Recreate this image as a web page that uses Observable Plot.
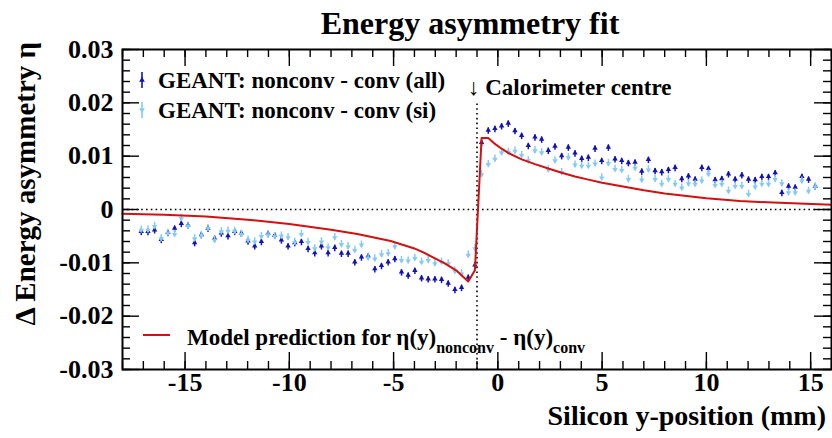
<!DOCTYPE html>
<html><head><meta charset="utf-8">
<script src="https://cdn.jsdelivr.net/npm/d3@7"></script>
<script src="https://cdn.jsdelivr.net/npm/@observablehq/plot@0.6"></script>
<style>
body{margin:0;background:#fff;}
#wrap{position:relative;width:832px;height:438px;}
</style></head><body><div id="wrap"></div>
<script>
// bin centres (mm)
const yPos = [-17.10,-16.78,-16.46,-16.14,-15.82,-15.50,-15.18,-14.86,-14.54,-14.22,-13.90,-13.58,-13.26,-12.94,-12.62,-12.30,-11.98,-11.66,-11.34,-11.02,-10.70,-10.38,-10.06,-9.74,-9.42,-9.10,-8.78,-8.46,-8.14,-7.82,-7.50,-7.18,-6.86,-6.54,-6.22,-5.90,-5.58,-5.26,-4.94,-4.62,-4.30,-3.98,-3.66,-3.34,-3.02,-2.70,-2.38,-2.06,-1.74,-1.42,-1.10,-0.78,-0.46,-0.14,0.18,0.50,0.82,1.14,1.46,1.78,2.10,2.42,2.74,3.06,3.38,3.70,4.02,4.34,4.66,4.98,5.30,5.62,5.94,6.26,6.58,6.90,7.22,7.54,7.86,8.18,8.50,8.82,9.14,9.46,9.78,10.10,10.42,10.74,11.06,11.38,11.70,12.02,12.34,12.66,12.98,13.30,13.62,13.94,14.26,14.58,14.90,15.22];
// GEANT nonconv - conv (all)
const etaAll = [-0.0043,-0.0043,-0.0040,-0.0058,-0.0045,-0.0037,-0.0028,-0.0031,-0.0064,-0.0049,-0.0037,-0.0056,-0.0046,-0.0051,-0.0043,-0.0046,-0.0061,-0.0070,-0.0062,-0.0047,-0.0050,-0.0059,-0.0070,-0.0064,-0.0062,-0.0075,-0.0083,-0.0070,-0.0083,-0.0073,-0.0084,-0.0084,-0.0100,-0.0091,-0.0089,-0.0113,-0.0107,-0.0100,-0.0094,-0.0119,-0.0125,-0.0116,-0.0130,-0.0132,-0.0132,-0.0133,-0.0140,-0.0152,-0.0148,-0.0129,-0.0106,0.0124,0.0147,0.0150,0.0155,0.0160,0.0146,0.0137,0.0118,0.0134,0.0130,0.0109,0.0117,0.0099,0.0115,0.0104,0.0094,0.0096,0.0113,0.0090,0.0115,0.0093,0.0090,0.0086,0.0087,0.0070,0.0092,0.0071,0.0069,0.0073,0.0077,0.0056,0.0061,0.0055,0.0077,0.0075,0.0054,0.0056,0.0065,0.0055,0.0063,0.0055,0.0054,0.0060,0.0060,0.0067,0.0030,0.0042,0.0040,0.0060,0.0055,0.0042];
// GEANT nonconv - conv (si)
const etaSi = [-0.0037,-0.0037,-0.0030,-0.0053,-0.0043,-0.0045,-0.0015,-0.0030,-0.0053,-0.0047,-0.0034,-0.0056,-0.0040,-0.0039,-0.0039,-0.0045,-0.0056,-0.0059,-0.0049,-0.0046,-0.0049,-0.0048,-0.0051,-0.0060,-0.0045,-0.0060,-0.0072,-0.0059,-0.0070,-0.0051,-0.0064,-0.0068,-0.0075,-0.0065,-0.0089,-0.0091,-0.0083,-0.0081,-0.0068,-0.0094,-0.0095,-0.0090,-0.0097,-0.0094,-0.0100,-0.0097,-0.0100,-0.0114,-0.0119,-0.0084,-0.0072,0.0067,0.0086,0.0096,0.0108,0.0109,0.0111,0.0103,0.0093,0.0112,0.0108,0.0076,0.0093,0.0071,0.0099,0.0085,0.0083,0.0083,0.0087,0.0061,0.0088,0.0077,0.0075,0.0058,0.0079,0.0057,0.0076,0.0058,0.0049,0.0058,0.0049,0.0042,0.0050,0.0049,0.0055,0.0068,0.0047,0.0049,0.0036,0.0045,0.0045,0.0030,0.0044,0.0049,0.0049,0.0058,0.0050,0.0033,0.0033,0.0055,0.0036,0.0044];
const errHalf = 0.0006;
// model prediction
const modelX   = [-18.0,-16.0,-14.0,-12.0,-10.0,-8.0,-6.74,-5.14,-4.0,-3.55,-2.59,-2.0,-1.42,-1.10,-0.78,-0.46,-0.14,0.18,0.50,1.14,1.78,2.42,3.06,3.70,4.34,5.0,6.0,7.0,8.0,10.0,11.6,13.2,16.0];
const modelEta = [-0.0008,-0.0010,-0.0013,-0.0019,-0.0027,-0.0038,-0.0046,-0.0059,-0.0073,-0.0081,-0.0100,-0.0114,-0.0135,-0.0114,0.0134,0.0134,0.0123,0.0114,0.0106,0.0094,0.0085,0.0077,0.0069,0.0062,0.0056,0.0050,0.0043,0.0036,0.0030,0.0021,0.0016,0.0013,0.0009];
// axes
const xTicks = [-15,-10,-5,0,5,10,15];
const yTicks = [-0.03,-0.02,-0.01,0,0.01,0.02,0.03];
const xMinor = d3.range(-18, 16.5, 1);
const yMinor = d3.range(-0.03, 0.0301, 0.002);

const W = 832, H = 438, mt = 49, mb = 69, ml = 122, mr = 1;
const innerW = W - ml - mr, innerH = H - mt - mb;
const dark = "#1212b8", light = "#86cbf3", red = "#d41010";
const idx = d3.range(yPos.length);
const mIdx = d3.range(modelX.length);
const font = "'Liberation Serif','Times New Roman',serif";

const plot = Plot.plot({
  width: W, height: H,
  marginTop: mt, marginBottom: mb, marginLeft: ml, marginRight: mr,
  style: {fontFamily: font, fontWeight: "bold", fontSize: "26px", background: "white", color: "black", overflow: "visible"},
  x: {domain: [-18, 16]},
  y: {domain: [-0.03, 0.03]},
  marks: [
    Plot.ruleY([0], {stroke: "black", strokeWidth: 1.6, strokeDasharray: "1.6,3.2"}),
    Plot.ruleX([-1], {y1: -0.03, y2: 0.0202, stroke: "black", strokeWidth: 1.6, strokeDasharray: "1.6,3.2"}),
    // all
    Plot.ruleX(idx, {x: i => yPos[i], y1: i => etaAll[i] - errHalf, y2: i => etaAll[i] + errHalf, stroke: dark, strokeWidth: 1.5}),
    Plot.dot(idx, {x: i => yPos[i], y: i => etaAll[i], symbol: "triangle", r: 2.0, fill: dark, dy: -1}),
    // si
    Plot.ruleX(idx, {x: i => yPos[i], y1: i => etaSi[i] - errHalf, y2: i => etaSi[i] + errHalf, stroke: light, strokeWidth: 1.5}),
    Plot.dot(idx, {x: i => yPos[i], y: i => etaSi[i], symbol: "triangle", rotate: 180, r: 2.0, fill: light, dy: 1}),
    // model
    Plot.line(mIdx, {x: i => modelX[i], y: i => modelEta[i], stroke: red, strokeWidth: 2}),
    // ticks (inward, on all four sides)
    Plot.ruleX(xTicks, {insetTop: innerH - 17, stroke: "black", strokeWidth: 1.4}),
    Plot.ruleX(xTicks, {insetBottom: innerH - 17, stroke: "black", strokeWidth: 1.4}),
    Plot.ruleX(xMinor, {insetTop: innerH - 8, stroke: "black", strokeWidth: 1.4}),
    Plot.ruleX(xMinor, {insetBottom: innerH - 8, stroke: "black", strokeWidth: 1.4}),
    Plot.ruleY(yTicks, {insetRight: innerW - 17, stroke: "black", strokeWidth: 1.4}),
    Plot.ruleY(yTicks, {insetLeft: innerW - 17, stroke: "black", strokeWidth: 1.4}),
    Plot.ruleY(yMinor, {insetRight: innerW - 8, stroke: "black", strokeWidth: 1.4}),
    Plot.ruleY(yMinor, {insetLeft: innerW - 8, stroke: "black", strokeWidth: 1.4}),
    Plot.axisX({ticks: xTicks, anchor: "bottom", tickSize: 0, tickPadding: 3, label: null, tickFormat: d => String(d)}),
    Plot.axisY({ticks: yTicks, anchor: "left", tickSize: 0, tickPadding: 9, label: null, tickFormat: d => d === 0 ? "0" : d.toFixed(2)}),
    Plot.frame({stroke: "black", strokeWidth: 2}),
    Plot.text(["\u2193 Calorimeter centre"], {x: -1, y: 0.0228, textAnchor: "start", dx: -9, fontSize: 23})
  ]
});
document.getElementById("wrap").appendChild(plot);

const svg = d3.select(plot);
const g = svg.append("g").attr("font-family", font).attr("font-weight", "bold").attr("fill", "black").attr("text-anchor", "start");
g.append("text").attr("x", 470).attr("y", 34).attr("text-anchor", "middle").attr("font-size", 32).text("Energy asymmetry fit");
g.append("text").attr("x", 826).attr("y", 425).attr("text-anchor", "end").attr("font-size", 28).text("Silicon y-position (mm)");
g.append("text").attr("transform", "translate(35,42) rotate(-90)").attr("text-anchor", "end").attr("font-size", 29).text("\u0394 Energy asymmetry \u03b7");
// legend
const leg = [["GEANT: nonconv - conv (all)", dark, 80, 0], ["GEANT: nonconv - conv (si)", light, 110, 180]];
for (const [label, col, yy, rot] of leg) {
  g.append("line").attr("x1", 142).attr("x2", 142).attr("y1", yy - 8).attr("y2", yy + 8).attr("stroke", col).attr("stroke-width", 1.6);
  g.append("path").attr("d", d3.symbol(d3.symbolTriangle, 14)()).attr("transform", `translate(142,${yy}) rotate(${rot})`).attr("fill", col);
  g.append("text").attr("x", 158).attr("y", yy + 8).attr("text-anchor", "start").attr("font-size", 23).text(label);
}
g.append("line").attr("x1", 143).attr("x2", 170).attr("y1", 335).attr("y2", 335).attr("stroke", red).attr("stroke-width", 2);
const t = g.append("text").attr("x", 187).attr("y", 345).attr("text-anchor", "start").attr("font-size", 23);
t.append("tspan").text("Model prediction for \u03b7(y)");
t.append("tspan").attr("font-size", 16).attr("dy", 8).text("nonconv");
t.append("tspan").attr("dy", -8).text(" - \u03b7(y)");
t.append("tspan").attr("font-size", 16).attr("dy", 8).text("conv");
</script></body></html>
